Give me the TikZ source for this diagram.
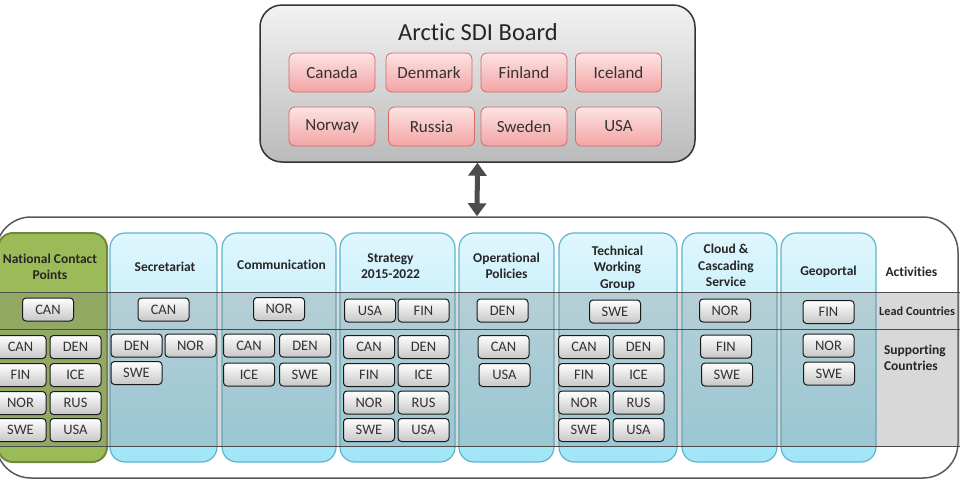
\documentclass[tikz,border=0pt]{standalone}
\usepackage{fontspec}
\setmainfont{Carlito}[Ligatures=NoCommon]
\usetikzlibrary{arrows.meta}
\definecolor{memberline}{HTML}{D46A6A}
\definecolor{membertop}{HTML}{FDE3E3}
\definecolor{memberbot}{HTML}{F3A4A4}
\definecolor{acttop}{HTML}{DFF6FD}
\definecolor{actbot}{HTML}{A0E5F7}
\definecolor{actline}{HTML}{5BB5CF}
\definecolor{ncpfill}{HTML}{9BBB59}
\definecolor{ncpline}{HTML}{71893F}

\begin{document}
\begin{tikzpicture}[x=1pt, y=-1pt,
  member/.style={draw=memberline, line width=0.8pt, rounded corners=6pt, top color=membertop, bottom color=memberbot, minimum width=86pt, minimum height=39pt, font=\fontsize{17}{17}\selectfont, text=black!80},
  ctry/.style={draw=black!90, line width=1pt, rounded corners=3.5pt, top color=white, bottom color=black!22, minimum width=51pt, minimum height=23pt, inner sep=0pt, font=\fontsize{14.5}{14.5}\selectfont, text=black!80},
  activity/.style={draw=actline, line width=1.2pt, rounded corners=15pt, top color=acttop, bottom color=actbot, minimum height=229pt, inner sep=0pt},
  head/.style={font=\bfseries\fontsize{13.5}{16.5}\selectfont, align=center, text=black!85},
  band/.style={draw=black!70, line width=0.8pt, fill=black!50, fill opacity=0.3}]
\useasboundingbox (0,0) rectangle (960,480);

% outer frame and board
\node[draw=black!65, line width=1.5pt, fill=white, rounded corners=35pt, minimum width=962pt, minimum height=261pt] (frame) at (477,347.5) {};
\node[draw=black!80, line width=1.5pt, rounded corners=22pt, top color=black!5, bottom color=black!27, minimum width=435pt, minimum height=157pt] (board) at (477.5,83.5) {};
\node[font=\fontsize{24.5}{24.5}\selectfont, text=black!85] (title) at (478,32) {Arctic SDI Board};
\node[member] (canada) at (332,72.5) {Canada}; \node[member] (denmark) at (429,72.5) {Denmark}; \node[member] (finland) at (524,72.5) {Finland}; \node[member] (iceland) at (618.5,72.5) {Iceland};
\node[member] (norway) at (332,126.5) {Norway}; \node[member] (russia) at (431.5,126.5) {Russia}; \node[member] (sweden) at (524,126.5) {Sweden}; \node[member] (usa) at (618.5,126.5) {USA};
\draw[black!70, line width=5pt, {Triangle[width=18pt,length=13pt]}-{Triangle[width=18pt,length=13pt]}] (board.south) -- (frame.north);

% activity columns
\node[draw=ncpline, line width=2pt, rounded corners=15pt, fill=ncpfill, minimum width=109pt, minimum height=229pt] (ncp) at (52.5,347.5) {};
\node[activity, minimum width=107pt] (secr) at (163.5,347.5) {};
\node[activity, minimum width=114pt] (comm) at (279,347.5) {};
\node[activity, minimum width=115pt] (strat) at (397.5,347.5) {};
\node[activity, minimum width=95pt] (oper) at (506.5,347.5) {};
\node[activity, minimum width=118pt] (twg) at (618,347.5) {};
\node[activity, minimum width=95pt] (cloud) at (729.5,347.5) {};
\node[activity, minimum width=95pt] (geo) at (828.5,347.5) {};

\node[head] (ncph) at (50,267) {National Contact\\Points}; \node[head] (secrh) at (165,266.5) {Secretariat}; \node[head] (commh) at (281.5,265) {Communication};
\node[head] (strath) at (390.5,266) {Strategy\\2015-2022}; \node[head] (operh) at (506.5,266) {Operational\\Policies}; \node[head] (twgh) at (617.5,268) {Technical\\Working\\Group};
\node[head] (cloudh) at (726,265.5) {Cloud \&\\Cascading\\Service}; \node[head] (geoh) at (828.5,271.5) {Geoportal};

% lead / supporting bands
\draw[band] (-5,292.5) rectangle (965,329); \draw[band] (-5,329) rectangle (965,446.5);
\node[head, anchor=west] (acts) at (882,272) {Activities};
\node[head, anchor=west, font=\bfseries\fontsize{12.3}{15}\selectfont, inner sep=1pt] (lead) at (878,311.5) {Lead Countries};
\node[head, anchor=west, align=left] (supp) at (880.5,358) {Supporting\\Countries};

% national contact points
\node[ctry] (ncp0) at (48,309.5) {CAN};
\node[ctry] (ncp1) at (20.5,347) {CAN}; \node[ctry] (ncp2) at (75.5,347) {DEN};
\node[ctry] (ncp3) at (20.5,375) {FIN}; \node[ctry] (ncp4) at (75.5,375) {ICE};
\node[ctry] (ncp5) at (20.5,403) {NOR}; \node[ctry] (ncp6) at (75.5,403) {RUS};
\node[ctry] (ncp7) at (20.5,430) {SWE}; \node[ctry] (ncp8) at (75.5,430) {USA};
% secretariat
\node[ctry] (secr0) at (163.5,309.5) {CAN};
\node[ctry] (secr1) at (136.5,345.5) {DEN}; \node[ctry] (secr2) at (190.5,345.5) {NOR}; \node[ctry] (secr3) at (136.5,373) {SWE};
% communication
\node[ctry] (comm0) at (279,309) {NOR};
\node[ctry] (comm1) at (249,345.5) {CAN}; \node[ctry] (comm2) at (305,345.5) {DEN};
\node[ctry] (comm3) at (249,374.5) {ICE}; \node[ctry] (comm4) at (305,374.5) {SWE};
% strategy
\node[ctry] (strat0) at (370,310.5) {USA}; \node[ctry] (strat1) at (423.5,310.5) {FIN};
\node[ctry] (strat2) at (369,347) {CAN}; \node[ctry] (strat3) at (423.5,347) {DEN};
\node[ctry] (strat4) at (369,375) {FIN}; \node[ctry] (strat5) at (423.5,375) {ICE};
\node[ctry] (strat6) at (369,402.5) {NOR}; \node[ctry] (strat7) at (423.5,402.5) {RUS};
\node[ctry] (strat8) at (369,430) {SWE}; \node[ctry] (strat9) at (423.5,430) {USA};
% operational policies
\node[ctry] (oper0) at (502.5,310.5) {DEN};
\node[ctry] (oper1) at (503.5,347) {CAN}; \node[ctry] (oper2) at (504.5,375) {USA};
% technical working group
\node[ctry] (twg0) at (615,311.5) {SWE};
\node[ctry] (twg1) at (584,347) {CAN}; \node[ctry] (twg2) at (638.5,347) {DEN};
\node[ctry] (twg3) at (584,375) {FIN}; \node[ctry] (twg4) at (638.5,375) {ICE};
\node[ctry] (twg5) at (584,402.5) {NOR}; \node[ctry] (twg6) at (638.5,402.5) {RUS};
\node[ctry] (twg7) at (584,430) {SWE}; \node[ctry] (twg8) at (638.5,430) {USA};
% cloud and geoportal
\node[ctry] (cloud0) at (725,310.5) {NOR};
\node[ctry] (cloud1) at (726,346.5) {FIN}; \node[ctry] (cloud2) at (727,374.5) {SWE};
\node[ctry] (geo0) at (828.5,312) {FIN};
\node[ctry] (geo1) at (828.5,345.5) {NOR}; \node[ctry] (geo2) at (829,373.5) {SWE};
\end{tikzpicture}
\end{document}
